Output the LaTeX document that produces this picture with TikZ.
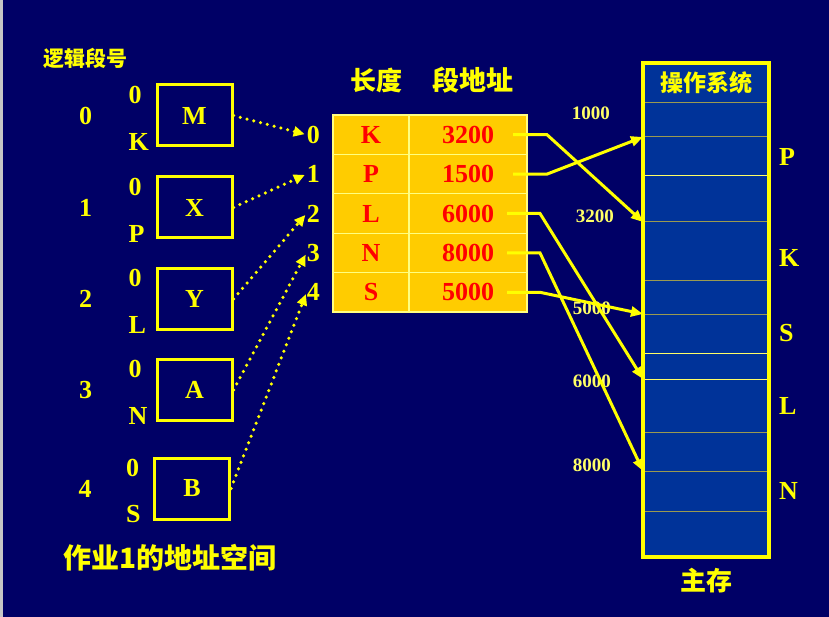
\documentclass[tikz,border=0pt]{standalone}
\usepackage{fontspec}
\setmainfont{Liberation Serif}
\newfontfamily\cjk{Noto Sans CJK SC}
\usetikzlibrary{positioning,arrows.meta}

\definecolor{navy}{HTML}{000066}
\definecolor{memblue}{HTML}{003399}
\definecolor{gold}{HTML}{FFCC00}
\definecolor{hl}{HTML}{FFFF00}
\definecolor{palehl}{HTML}{FFFF66}
\definecolor{tline}{HTML}{FFFF80}
\definecolor{cline}{HTML}{9A9A50}

\newcommand\setfs[1]{\fontsize{#1}{#1}\selectfont}

\tikzset{
  segbox/.style={draw=hl,line width=3pt,minimum width=75pt,minimum height=61pt,
    text=hl,font=\bfseries\setfs{26}},
  lbl/.style={text=hl,font=\bfseries\setfs{26},inner sep=0pt},
  bignum/.style={text=hl,font=\bfseries\setfs{26},inner sep=0pt},
  cjklbl/.style={text=hl,font=\cjk\bfseries\setfs{#1},inner sep=0pt},
  lencell/.style={draw=tline,fill=gold,line width=1.2pt,minimum width=76pt,
    minimum height=39.4pt,text=red,font=\bfseries\setfs{26},outer sep=0pt,inner sep=0pt},
  addrcell/.style={lencell,minimum width=118pt},
  memcell/.style={draw=cline,fill=memblue,line width=1pt,minimum width=126pt,
    outer sep=0pt,inner sep=0pt},
  memlbl/.style={text=palehl,font=\bfseries\setfs{19},inner sep=0pt,anchor=east},
  dotarrow/.style={hl,line width=3.5pt,line cap=round,dash pattern=on 0pt off 7pt,
    -{Triangle[length=11pt,width=10pt]},shorten >=2pt},
  memarrow/.style={hl,line width=3pt,-{Triangle[length=12pt,width=10pt]}}
}

\begin{document}
\begin{tikzpicture}[x=1pt,y=-1pt]
\fill[navy] (0,0) rectangle (829,617);
\fill[gray!45] (0,0) rectangle (3,617);
\useasboundingbox (0,0) rectangle (829,617);

% address space of job 1
\node[cjklbl=21] (title) at (85,58) {逻辑段号};

\node[segbox] (M) at (194.5,115.5) {M};
\node[segbox] (X) [below of=M,node distance=92pt] {X};
\node[segbox] (Y) [below of=X,node distance=91.5pt] {Y};
\node[segbox] (A) [below of=Y,node distance=91pt] {A};
\node[segbox,xshift=-2.5pt] (B) [below of=A,node distance=98.5pt] {B};

\node[lbl] (s0) [left of=M,node distance=109pt] {0};
\node[lbl] (s1) [left of=X,node distance=109pt] {1};
\node[lbl] (s2) [left of=Y,node distance=109pt] {2};
\node[lbl] (s3) [left of=A,node distance=109pt] {3};
\node[lbl] (s4) [left of=B,node distance=107pt] {4};

\node[lbl,anchor=west] (zM) at ([shift={(-27,11)}]M.north west) {0};
\node[lbl,anchor=west] (lM) at ([shift={(-27,-6)}]M.south west) {K};
\node[lbl,anchor=west] (zX) at ([shift={(-27,11)}]X.north west) {0};
\node[lbl,anchor=west] (lX) at ([shift={(-27,-6)}]X.south west) {P};
\node[lbl,anchor=west] (zY) at ([shift={(-27,11)}]Y.north west) {0};
\node[lbl,anchor=west] (lY) at ([shift={(-27,-6)}]Y.south west) {L};
\node[lbl,anchor=west] (zA) at ([shift={(-27,11)}]A.north west) {0};
\node[lbl,anchor=west] (lA) at ([shift={(-27,-6)}]A.south west) {N};
\node[lbl,anchor=west] (zB) at ([shift={(-27,11)}]B.north west) {0};
\node[lbl,anchor=west] (lB) at ([shift={(-27,-6)}]B.south west) {S};

\node[cjklbl=28] (job) at (170,558) {作业1的地址空间};

% segment table
\node[lencell] (len0) at (371,134.7) {K};
\node[lencell] (len1) [below=0pt of len0] {P};
\node[lencell] (len2) [below=0pt of len1] {L};
\node[lencell] (len3) [below=0pt of len2] {N};
\node[lencell] (len4) [below=0pt of len3] {S};
\node[addrcell] (addr0) [right=0pt of len0] {3200};
\node[addrcell] (addr1) [right=0pt of len1] {1500};
\node[addrcell] (addr2) [right=0pt of len2] {6000};
\node[addrcell] (addr3) [right=0pt of len3] {8000};
\node[addrcell] (addr4) [right=0pt of len4] {5000};

\node[cjklbl=26] (hlen) at (376,80) {长度};
\node[cjklbl=27] (haddr) at (473,80) {段地址};

\node[bignum] (n0) [left=13pt of len0] {0};
\node[bignum] (n1) [left=13pt of len1] {1};
\node[bignum] (n2) [left=13pt of len2] {2};
\node[bignum] (n3) [left=13pt of len3] {3};
\node[bignum] (n4) [left=13pt of len4] {4};

\draw[dotarrow] (M.east) -- (n0.west);
\draw[dotarrow] (X.east) -- (n1.west);
\draw[dotarrow] (Y.east) -- (n2.west);
\draw[dotarrow] (A.east) -- (n3.west);
\draw[dotarrow] (B.east) -- (n4.west);

% main memory
\node[memcell,minimum height=40pt] (mem0) at (706,83) {};
\node[cjklbl=23] (os) at (mem0) {操作系统};
\node[memcell,minimum height=34pt] (mem1) [below=0pt of mem0] {};
\node[memcell,minimum height=39pt] (mem2) [below=0pt of mem1] {};
\node[memcell,minimum height=46pt] (mem3) [below=0pt of mem2] {};
\node[memcell,minimum height=59pt] (mem4) [below=0pt of mem3] {};
\node[memcell,minimum height=33pt] (mem5) [below=0pt of mem4] {};
\node[memcell,minimum height=39pt] (mem6) [below=0pt of mem5] {};
\node[memcell,minimum height=26pt] (mem7) [below=0pt of mem6] {};
\node[memcell,minimum height=53pt] (mem8) [below=0pt of mem7] {};
\node[memcell,minimum height=39pt] (mem9) [below=0pt of mem8] {};
\node[memcell,minimum height=40pt] (mem10) [below=0pt of mem9] {};
\node[memcell,minimum height=46pt] (mem11) [below=0pt of mem10] {};

\draw[palehl,line width=1pt] (mem3.north west) -- (mem3.north east)
  (mem7.north west) -- (mem7.north east)
  (mem8.north west) -- (mem8.north east);
\draw[hl,line width=3.5pt] (mem0.north west) rectangle (mem11.south east);

\node[cjklbl=26] (mainmem) [below=11pt of mem11] {主存};

\node[bignum] (pP) [right=10pt of mem2] {P};
\node[bignum,yshift=-6pt] (pK) [right=10pt of mem4] {K};
\node[bignum] (pS) [right=10pt of mem6] {S};
\node[bignum] (pL) [right=10pt of mem8] {L};
\node[bignum] (pN) [right=10pt of mem10] {N};

\node[memlbl] (a1000) at ([shift={(-33,10)}]mem1.north west) {1000};
\node[memlbl] (a3200) at ([shift={(-29,-6)}]mem4.north west) {3200};
\node[memlbl] (a5000) at ([shift={(-32,-6)}]mem6.north west) {5000};
\node[memlbl] (a6000) at ([shift={(-32,2)}]mem8.north west) {6000};
\node[memlbl] (a8000) at ([shift={(-32,-6)}]mem10.north west) {8000};

\draw[memarrow] ([xshift=-14pt]addr0.east) -- ++(34,0) -- (mem4.north west);
\draw[memarrow] ([xshift=-14pt]addr1.east) -- ++(34,0) -- (mem2.north west);
\draw[memarrow] ([xshift=-20pt]addr2.east) -- ++(33,0) -- (mem8.north west);
\draw[memarrow] ([xshift=-20pt]addr3.east) -- ++(33,0) -- (mem10.north west);
\draw[memarrow] ([xshift=-20pt]addr4.east) -- ++(33,0) -- (mem6.north west);
\end{tikzpicture}
\end{document}
